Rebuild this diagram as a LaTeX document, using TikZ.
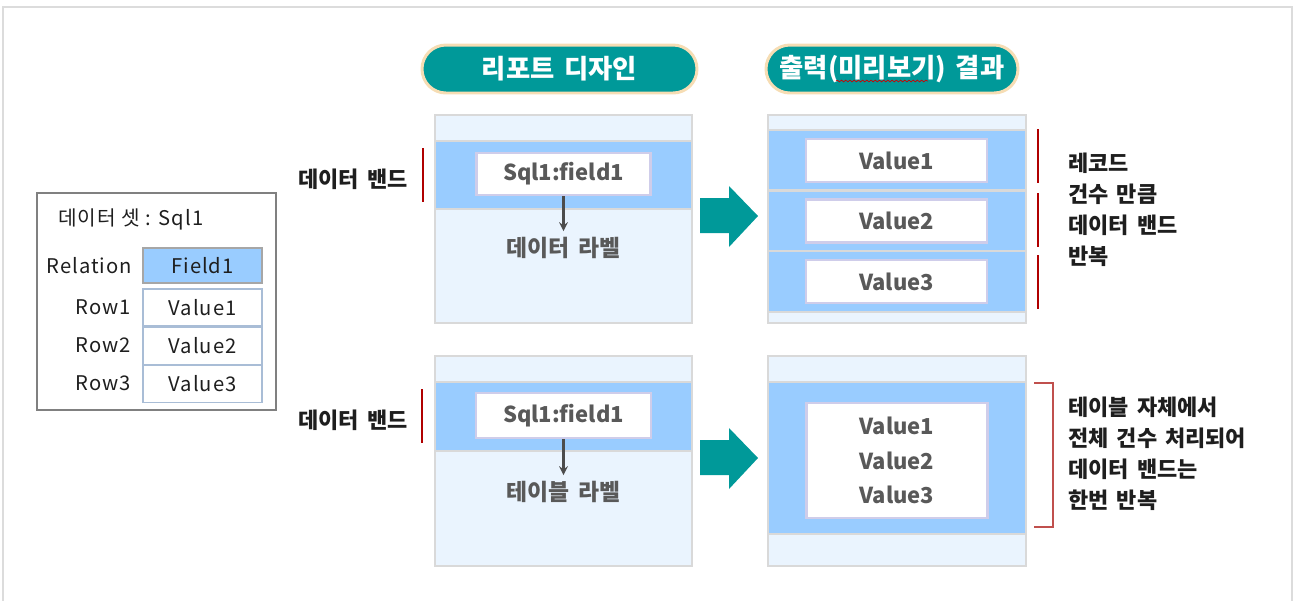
\documentclass[tikz,border=0pt]{standalone}
\usepackage{fontspec}
\setmainfont{Noto Sans CJK KR}[WordSpace=1.6]
\newfontfamily\tabfont{Noto Sans CJK KR}[LetterSpace=5]
\usepackage{tikz}
\usetikzlibrary{positioning,calc,decorations.pathmorphing}
\definecolor{ink}       {HTML}{1E1E1E}
\definecolor{greyink}   {HTML}{595959}
\definecolor{pillteal}  {HTML}{009999}
\definecolor{pillrim}   {HTML}{F6DDB4}
\definecolor{panelrim}  {HTML}{D9D9D9}
\definecolor{panelfill} {HTML}{EAF4FE}
\definecolor{bandfill}  {HTML}{99CCFF}
\definecolor{boxrim}    {HTML}{CFCDEA}
\definecolor{tabrim}    {HTML}{808080}
\definecolor{cellrim}   {HTML}{A9BDD6}
\definecolor{bandred}   {HTML}{B00000}
\definecolor{brackred}  {HTML}{C0504D}
\definecolor{framegrey} {HTML}{DCDCDC}
\tikzset{
  >=stealth,
  % --- nodes
  hdr/.style    = {rounded corners=13.6pt, fill=pillteal, draw=pillrim, line width=1.7pt,
                   text=white, font=\fontsize{15}{17}\selectfont\bfseries,
                   minimum height=0.96cm, inner sep=0pt},
  valbox/.style = {draw=boxrim, fill=white, line width=1.4pt, text=greyink,
                   font=\fontsize{12.5}{19.6}\selectfont\bfseries, align=center,
                   minimum width=3.62cm, minimum height=0.86cm, inner sep=0pt},
  lbl/.style    = {text=greyink, font=\fontsize{13}{15}\selectfont\bfseries},
  side/.style   = {text=ink, font=\fontsize{12.5}{17.6}\selectfont\bfseries,
                   align=left, inner sep=0pt},
  cell/.style   = {draw=cellrim, line width=0.6pt, minimum width=2.38cm,
                   minimum height=0.74cm, inner sep=0pt, text=ink,
                   font=\tabfont\fontsize{11.5}{13}\selectfont},
  tab/.style    = {text=ink, font=\tabfont\fontsize{11.5}{13}\selectfont, inner sep=0pt},
  % --- shapes
  panel/.style  = {draw=panelrim, fill=panelfill, line width=1.6pt},
  band/.style   = {draw=panelrim, fill=bandfill, line width=1.6pt},
  bigarrow/.style = {fill=pillteal},
  % --- edges
  e/.style      = {-stealth, line width=1.2pt, draw=greyink!85!black},
  bar/.style    = {draw=bandred, line width=0.9pt},
  brack/.style  = {draw=brackred, line width=0.9pt},
  squig/.style  = {draw=red!80!black, line width=0.4pt, decorate,
                   decoration={snake, amplitude=0.5pt, segment length=2.4pt}},
}
\begin{document}
\begin{tikzpicture}[x=0.02cm, y=-0.02cm]
  \useasboundingbox (0,0) rectangle (1296,600);
  % outer frame
  \draw[framegrey, line width=1.1pt] (3,604) -- (3,7) -- (1292,7) -- (1292,604);

  % data set table
  \draw[tabrim, line width=0.6pt] (37,193) rectangle (276,410);
  \node[tab, anchor=west] (dstitle) at (58,219) {데이터 셋 : Sql1};
  \node[cell, fill=bandfill, draw=tabrim!70, minimum height=0.7cm] (fld) at (202.5,265.5) {Field1};
  \node[cell] (val1) at (202.5,307.5) {Value1};
  \node[cell, below=0pt of val1] (val2) {Value2};
  \node[cell, below=0pt of val2] (val3) {Value3};
  \node[tab, left=0.2cm of fld] (rel) {Relation};
  \node[tab, left=0.22cm of val1] (row1) {Row1};
  \node[tab, left=0.22cm of val2] (row2) {Row2};
  \node[tab, left=0.22cm of val3] (row3) {Row3};

  % headers
  \node[hdr, minimum width=5.5cm] (hdesign) at (559.5,69) {리포트 디자인};
  \node[hdr, minimum width=5.04cm] (hresult) at (892,69) {출력(미리보기) 결과};
  \draw[squig] (836,81) -- (928,81);

  % design, data band
  \draw[panel] (435,115) rectangle (692,323);
  \draw[band] (435,141) rectangle (692,209);
  \node[valbox, minimum width=3.48cm, minimum height=0.84cm] (dsrc) at (563.5,174) {Sql1:field1};
  \node[lbl] (dlbl) at (563.5,248) {데이터 라벨};
  \draw[e] (dsrc) -- (dlbl);
  \node[side, anchor=east] (dband1) at (408,179) {데이터 밴드};
  \draw[bar] (423,148) -- (423,202);

  % design, table
  \draw[panel] (435,356) rectangle (692,566);
  \draw[band] (435,382) rectangle (692,451);
  \node[valbox, minimum width=3.5cm, minimum height=0.9cm] (tsrc) at (563.5,415.5) {Sql1:field1};
  \node[lbl] (tlbl) at (563.5,492) {테이블 라벨};
  \draw[e] (tsrc) -- (tlbl);
  \node[side, anchor=east] (dband2) at (408,420) {데이터 밴드};
  \draw[bar] (422,389) -- (422,443);

  % teal arrows
  \foreach \cy in {216,458}{
    \fill[bigarrow] (700,\cy-18) -- (729,\cy-18) -- (729,\cy-30) -- (758,\cy)
      -- (729,\cy+31) -- (729,\cy+17) -- (700,\cy+17) -- cycle;
  }

  % result, one band per record
  \draw[panel] (768,115) rectangle (1026,323);
  \foreach \a/\b/\c [count=\i] in {130/160.5/190.5, 190.5/221/251, 251/281.5/312}{
    \draw[band] (768,\a) rectangle (1026,\c);
    \node[valbox] (out\i) at (896.5,\b) {Value\i};
  }
  \foreach \a/\b in {129/183, 193/247, 255/309}
    \draw[bar] (1038,\a) -- (1038,\b);
  \node[side, anchor=west] (note1) at (1068,210) {레코드\\건수 만큼\\데이터 밴드\\반복};

  % result, one band for the table
  \draw[panel] (768,356) rectangle (1026,566);
  \draw[band] (768,382) rectangle (1026,534);
  \node[valbox, minimum height=2.3cm] (tout) at (897,460.5) {Value1\\Value2\\Value3};
  \draw[brack] (1034,383) -- (1053,383) -- (1053,527) -- (1034,527);
  \node[side, anchor=west] (note2) at (1068,453.5) {테이블 자체에서\\전체 건수 처리되어\\데이터 밴드는\\한번 반복};
\end{tikzpicture}
\end{document}
